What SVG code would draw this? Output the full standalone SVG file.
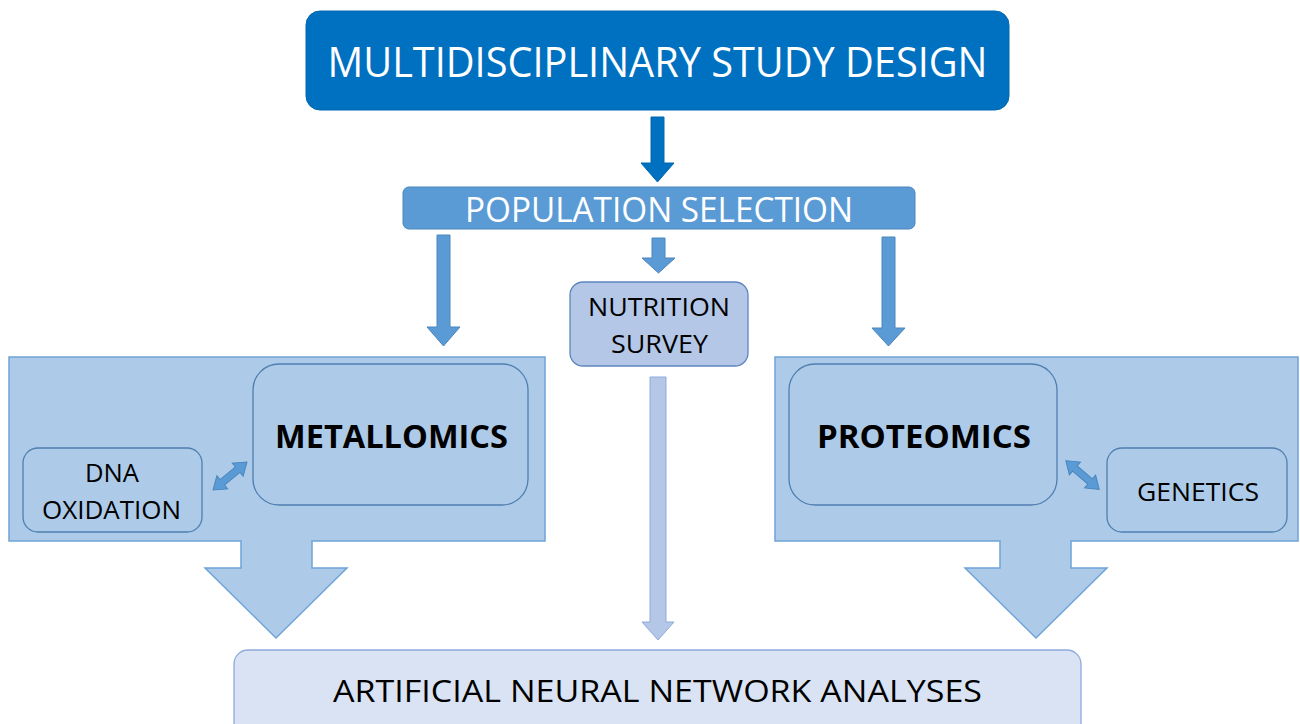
<svg xmlns="http://www.w3.org/2000/svg" width="1300" height="724" viewBox="0 0 1300 724">
  <defs>
    <style>
      text { font-family: "Open Sans", "Noto Sans", "Liberation Sans", sans-serif; text-anchor: middle; }
      .white { fill: #ffffff; }
      .dark { fill: #000000; }
      .bold { font-weight: bold; }
      .panel { fill: #ADCBE8; stroke: #6FA4D8; stroke-width: 1.5; }
      .inner { fill: #ADCBE8; stroke: #4F7FB0; stroke-width: 1.3; }
      .blk { fill: #5B9BD5; stroke: #4A86BE; stroke-width: 1; }
      .pale { fill: #B4C7E7; stroke: #8FAADC; stroke-width: 1; }
    </style>
    <!-- horizontal double-headed arrow, centred on the origin -->
    <path id="dbl" d="M -22 0 L -10 -8.5 L -10 -3.5 L 10 -3.5 L 10 -8.5 L 22 0 L 10 8.5 L 10 3.5 L -10 3.5 L -10 8.5 Z"/>
  </defs>

  <rect width="1300" height="724" fill="#ffffff"/>

  <!-- large panels with their block arrows (drawn first, behind inner boxes) -->
  <g id="metallomics-panel">
    <path class="panel" d="M 9 357 L 545 357 L 545 541 L 312 541 L 312 568 L 347 568 L 276 638 L 205 568 L 241 568 L 241 541 L 9 541 Z"/>
  </g>
  <g id="proteomics-panel">
    <path class="panel" d="M 775 357 L 1298 357 L 1298 541 L 1071 541 L 1071 568 L 1107 568 L 1036 638 L 965 568 L 1000 568 L 1000 541 L 775 541 Z"/>
  </g>

  <!-- connectors -->
  <g id="connectors">
    <!-- study design to population selection -->
    <path d="M 651 117 L 664 117 L 664 163 L 674 163 L 657.5 182 L 641 163 L 651 163 Z" fill="#0070C0" stroke="#0068B0" stroke-width="1"/>
    <!-- population selection to metallomics -->
    <path class="blk" d="M 437 235 L 450 235 L 450 327 L 460 327 L 443.5 346 L 427 327 L 437 327 Z"/>
    <!-- population selection to nutrition survey -->
    <path class="blk" d="M 652 238 L 665 238 L 665 258 L 675 258 L 658.5 273 L 642 258 L 652 258 Z"/>
    <!-- population selection to proteomics -->
    <path class="blk" d="M 882 237 L 895 237 L 895 328 L 905 328 L 888.5 346 L 872 328 L 882 328 Z"/>
    <!-- nutrition survey to neural network analyses -->
    <path class="pale" d="M 650 377 L 666 377 L 666 622 L 674 622 L 658 640 L 642 622 L 650 622 Z"/>
    <!-- DNA oxidation <-> metallomics -->
    <use href="#dbl" class="blk" transform="translate(230 476) rotate(-39.5)"/>
    <!-- proteomics <-> genetics -->
    <use href="#dbl" class="blk" transform="translate(1082.5 475) rotate(40.6)"/>
  </g>

  <g id="study-design">
    <rect x="306" y="11" width="703" height="99" rx="14" fill="#0070C0" stroke="#0066AE" stroke-width="1"/>
    <text class="white" x="657.5" y="77" font-size="42" textLength="660" lengthAdjust="spacingAndGlyphs">MULTIDISCIPLINARY STUDY DESIGN</text>
  </g>

  <g id="population-selection">
    <rect x="403" y="187" width="512" height="42" rx="6" fill="#5B9BD5" stroke="#4A86BE" stroke-width="1"/>
    <text class="white" x="659" y="222" font-size="35" textLength="388" lengthAdjust="spacingAndGlyphs">POPULATION SELECTION</text>
  </g>

  <g id="nutrition-survey">
    <rect x="570" y="282" width="178" height="84" rx="13" fill="#B4C7E7" stroke="#5E86BE" stroke-width="1.3"/>
    <text class="dark" x="659" y="316" font-size="25" textLength="142" lengthAdjust="spacingAndGlyphs">NUTRITION</text>
    <text class="dark" x="659.5" y="353" font-size="25" textLength="97" lengthAdjust="spacingAndGlyphs">SURVEY</text>
  </g>

  <g id="metallomics">
    <rect class="inner" x="253" y="364" width="275" height="141" rx="26"/>
    <text class="dark bold" x="391.5" y="448" font-size="32" textLength="233" lengthAdjust="spacingAndGlyphs">METALLOMICS</text>
  </g>

  <g id="dna-oxidation">
    <rect class="inner" x="23" y="448" width="179" height="84" rx="15"/>
    <text class="dark" x="112" y="482" font-size="26" textLength="54" lengthAdjust="spacingAndGlyphs">DNA</text>
    <text class="dark" x="111.5" y="519" font-size="26" textLength="139" lengthAdjust="spacingAndGlyphs">OXIDATION</text>
  </g>

  <g id="proteomics">
    <rect class="inner" x="789" y="364" width="268" height="141" rx="26"/>
    <text class="dark bold" x="924" y="448" font-size="32" textLength="214" lengthAdjust="spacingAndGlyphs">PROTEOMICS</text>
  </g>

  <g id="genetics">
    <rect class="inner" x="1107" y="448" width="180" height="84" rx="15"/>
    <text class="dark" x="1198" y="501" font-size="26" textLength="122" lengthAdjust="spacingAndGlyphs">GENETICS</text>
  </g>

  <g id="neural-network-analyses">
    <rect x="234" y="650" width="847" height="90" rx="14" fill="#DAE3F3" stroke="#8FAADC" stroke-width="1.3"/>
    <text class="dark" x="657.5" y="702" font-size="31" textLength="649" lengthAdjust="spacingAndGlyphs">ARTIFICIAL NEURAL NETWORK ANALYSES</text>
  </g>
</svg>
